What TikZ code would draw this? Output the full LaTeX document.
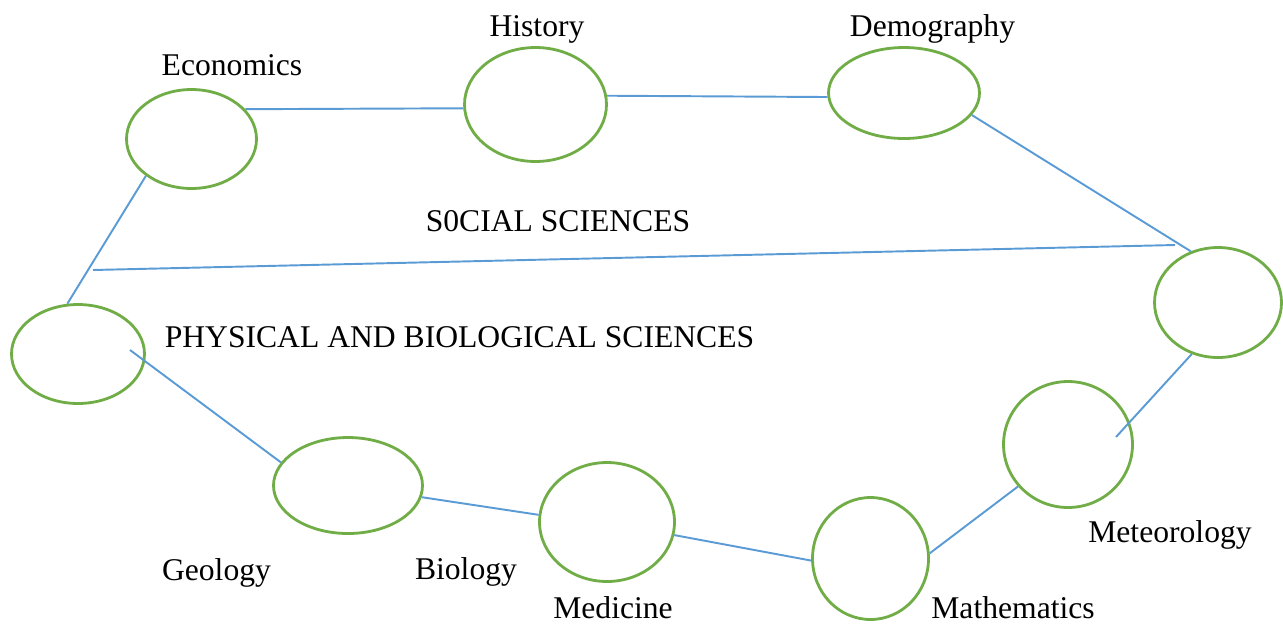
\documentclass[tikz,border=0pt]{standalone}
\usepackage{fontspec}
\setmainfont{Liberation Serif}
\usepackage{xcolor}
\usetikzlibrary{shapes.geometric}
\definecolor{sciGreenLine}{HTML}{70AD47}
\definecolor{sciBlueLine}{HTML}{5B9BD5}

\tikzset{
  topicRing/.style={ellipse, draw=sciGreenLine, line width=1.6pt, inner sep=0pt},
  linkLine/.style={sciBlueLine, line width=1.1pt},
  topicLabel/.style={anchor=base, inner sep=0pt, font=\fontsize{18}{22}\selectfont}
}

\begin{document}
\begin{tikzpicture}[x=0.02cm, y=-0.02cm]

\useasboundingbox (0,0) rectangle (1283,623);

% --- RINGS (social sciences on top, the rest below) ---
\node[topicRing, minimum width=2.60cm, minimum height=1.98cm] (econ)  at (191.5,139)   {};
\node[topicRing, minimum width=2.84cm, minimum height=2.28cm] (hist)  at (535.5,104.5) {};
\node[topicRing, minimum width=3.02cm, minimum height=1.82cm] (demo)  at (904,93)      {};
\node[topicRing, minimum width=2.54cm, minimum height=2.20cm] (east)  at (1218,302.5)  {};
\node[topicRing, minimum width=2.66cm, minimum height=1.98cm] (west)  at (78,354)      {};
\node[topicRing, minimum width=2.98cm, minimum height=1.92cm] (geo)   at (348,485.5)   {};
\node[topicRing, minimum width=2.70cm, minimum height=2.38cm] (med)   at (607,522)     {};
\node[topicRing, minimum width=2.32cm, minimum height=2.44cm] (math)  at (870.5,558.5) {};
\node[topicRing, minimum width=2.58cm, minimum height=2.52cm] (met)   at (1068,444.5)  {};

% --- divider between the two groups ---
\coordinate (divL) at (93,270);
\coordinate (divR) at (1175,245);
\draw[linkLine] (divL) -- (divR);

% --- links, upper chain ---
\draw[linkLine] (west.102)  -- (econ.219);
\draw[linkLine] (econ.29)   -- (hist.183);
\draw[linkLine] (hist.7)    -- (demo.183);
\draw[linkLine] (demo.-18)  -- (east.118);

% --- links, lower chain ---
\draw[linkLine] ([shift={(52,-4)}]west.center) -- (geo.161);
\draw[linkLine] (geo.-9)    -- (med.174);
\draw[linkLine] (med.-11)   -- (math.182);
\draw[linkLine] (math.5)    -- (met.220);
\draw[linkLine] ([shift={(48,-7.5)}]met.center) -- (east.243);

% --- labels ---
\node[topicLabel] (econLabel) at (232,75)   {Economics};
\node[topicLabel] (histLabel) at (537,36)   {History};
\node[topicLabel] (demoLabel) at (932.5,36) {Demography};
\node[topicLabel] (socLabel)  at (558,231)  {S0CIAL SCIENCES};
\node[topicLabel] (physLabel) at (459.5,347) {PHYSICAL AND BIOLOGICAL SCIENCES};
\node[topicLabel] (geoLabel)  at (216.5,580) {Geology};
\node[topicLabel] (bioLabel)  at (466,579)  {Biology};
\node[topicLabel] (medLabel)  at (613,618)  {Medicine};
\node[topicLabel] (mathLabel) at (1013,618) {Mathematics};
\node[topicLabel] (metLabel)  at (1170,542) {Meteorology};

\end{tikzpicture}
\end{document}
